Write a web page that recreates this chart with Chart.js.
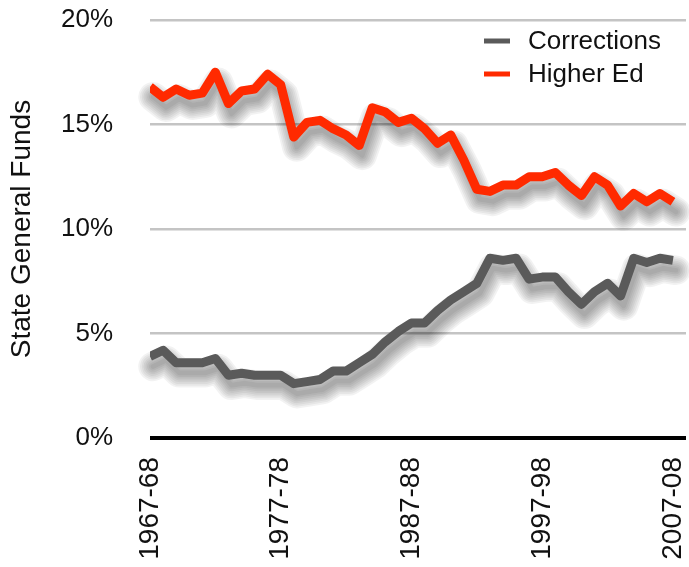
<!DOCTYPE html>
<html lang="en">
<head>
  <meta charset="UTF-8" />
  <title>State General Funds</title>
  <script src="https://cdn.jsdelivr.net/npm/chart.js"></script>
  <style>
    body { margin: 0; background: #fff; }
    #wrap { width: 689px; height: 567px; position: relative; }
  </style>
</head>
<body>
  <div id="wrap"><canvas id="chart"></canvas></div>

  <script>
    const years = [
      '1967-68','1968-69','1969-70','1970-71','1971-72','1972-73','1973-74','1974-75','1975-76','1976-77',
      '1977-78','1978-79','1979-80','1980-81','1981-82','1982-83','1983-84','1984-85','1985-86','1986-87',
      '1987-88','1988-89','1989-90','1990-91','1991-92','1992-93','1993-94','1994-95','1995-96','1996-97',
      '1997-98','1998-99','1999-00','2000-01','2001-02','2002-03','2003-04','2004-05','2005-06','2006-07',
      '2007-08'
    ];
    const tickLabels = ['1967-68', '1977-78', '1987-88', '1997-98', '2007-08'];
    const yTicks = [0, 5, 10, 15, 20];

    const corrections = [
      3.9, 4.2, 3.6, 3.6, 3.6, 3.8, 3.0, 3.1, 3.0, 3.0, 3.0,
      2.6, 2.7, 2.8, 3.2, 3.2, 3.6, 4.0, 4.6, 5.1, 5.5,
      5.5, 6.1, 6.6, 7.0, 7.4, 8.6, 8.5, 8.6, 7.6, 7.7,
      7.7, 7.0, 6.4, 7.0, 7.4, 6.8, 8.6, 8.4, 8.6, 8.5
    ];
    const higherEd = [
      16.8, 16.3, 16.7, 16.4, 16.5, 17.5, 16.0, 16.6, 16.7, 17.4, 16.9,
      14.4, 15.1, 15.2, 14.8, 14.5, 14.0, 15.8, 15.6, 15.1, 15.3,
      14.8, 14.1, 14.5, 13.3, 11.9, 11.8, 12.1, 12.1, 12.5, 12.5,
      12.7, 12.1, 11.6, 12.5, 12.1, 11.1, 11.7, 11.3, 11.7, 11.3
    ];

    const FONT = "'Liberation Sans', Arial, Helvetica, sans-serif";

    // soft drop shadow: stacked translucent strokes along the line's own points
    const shadowPlugin = {
      id: 'shadow',
      beforeDatasetsDraw(chart) {
        const c = chart.ctx;
        chart.data.datasets.forEach((ds, i) => {
          const pts = chart.getDatasetMeta(i).data;
          c.save();
          c.translate(3, 10);
          c.lineJoin = 'round';
          c.lineCap = 'round';
          for (let k = 0; k < 8; k++) {
            c.strokeStyle = 'rgba(0,0,0,0.05)';
            c.lineWidth = 5 + k * 3.5;
            c.beginPath();
            pts.forEach((p, j) => j ? c.lineTo(p.x, p.y) : c.moveTo(p.x, p.y));
            c.stroke();
          }
          c.restore();
        });
      }
    };

    // legend drawn at top right, inside the plot
    const legendPlugin = {
      id: 'cornerLegend',
      afterDraw(chart) {
        const c = chart.ctx;
        c.save();
        c.font = '26px ' + FONT;
        c.textBaseline = 'middle';
        c.textAlign = 'left';
        chart.data.datasets.forEach((ds, i) => {
          const y = 41 + i * 33;
          c.strokeStyle = ds.borderColor;
          c.lineWidth = 5;
          c.beginPath();
          c.moveTo(484, y);
          c.lineTo(510, y);
          c.stroke();
          c.fillStyle = '#111';
          c.fillText(ds.label, 528, y + 1);
        });
        c.restore();
      }
    };

    const noPad = s => {
      s.paddingLeft = 0; s.paddingRight = 0;
      s.paddingTop = 0; s.paddingBottom = 0;
    };

    const toPoints = arr => arr.map((v, i) => ({ x: i, y: v }));

    new Chart(document.getElementById('chart'), {
      type: 'line',
      data: {
        datasets: [
          {
            label: 'Corrections',
            data: toPoints(corrections),
            borderColor: '#5a5a5a',
            borderWidth: 9,
            borderJoinStyle: 'round',
            pointRadius: 0,
            tension: 0
          },
          {
            label: 'Higher Ed',
            data: toPoints(higherEd),
            borderColor: '#ff2a00',
            borderWidth: 9,
            borderJoinStyle: 'round',
            pointRadius: 0,
            tension: 0
          }
        ]
      },
      options: {
        responsive: true,
        maintainAspectRatio: false,
        animation: false,
        layout: { padding: { top: 20, right: 3, left: 0, bottom: 0 } },
        plugins: {
          legend: { display: false },
          tooltip: { enabled: false }
        },
        scales: {
          x: {
            type: 'linear',
            min: 0,
            max: 41,
            afterFit(s) { s.height = 129; noPad(s); },
            afterBuildTicks(s) {
              s.ticks = tickLabels.map(t => ({ value: years.indexOf(t) }));
            },
            grid: { display: false, drawTicks: false },
            border: { display: false },
            ticks: {
              autoSkip: false,
              minRotation: 90,
              maxRotation: 90,
              padding: 19,
              color: '#111',
              font: { family: FONT, size: 28 },
              callback: v => years[v]
            }
          },
          y: {
            min: 0,
            max: 20,
            afterFit(s) { s.width = 150; noPad(s); },
            afterBuildTicks(s) {
              s.ticks = yTicks.map(v => ({ value: v }));
            },
            border: { display: false },
            grid: {
              drawTicks: false,
              color: ctx => ctx.tick && ctx.tick.value === 0 ? '#000' : '#c4c4c4',
              lineWidth: ctx => ctx.tick && ctx.tick.value === 0 ? 4 : 2.5
            },
            ticks: {
              padding: 37,
              color: '#111',
              font: { family: FONT, size: 26 },
              callback: v => v + '%'
            },
            title: {
              display: true,
              text: 'State General Funds',
              color: '#111',
              font: { family: FONT, size: 28, lineHeight: 1 },
              padding: { top: 8, bottom: 0 }
            }
          }
        }
      },
      plugins: [shadowPlugin, legendPlugin]
    });
  </script>
</body>
</html>
